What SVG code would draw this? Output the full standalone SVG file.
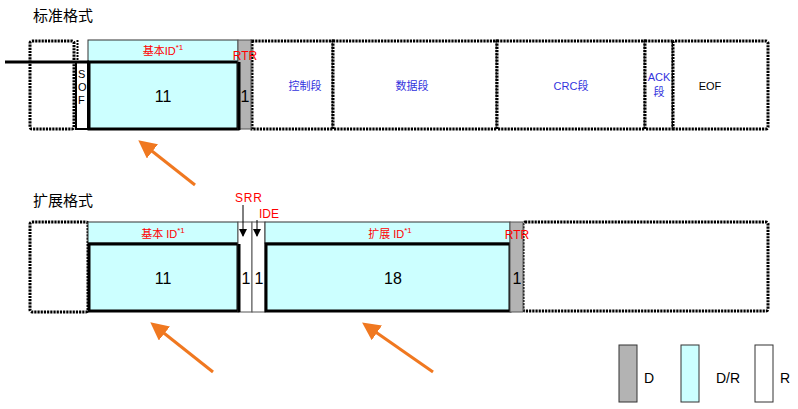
<svg xmlns="http://www.w3.org/2000/svg" width="798" height="409" viewBox="0 0 798 409">
<style>
.title{font-family:"Noto Sans CJK SC","Liberation Sans",sans-serif;font-size:15px;fill:#000}
.dot{fill:#fff;stroke:#000;stroke-width:3;stroke-dasharray:2.2 1}
.cy{fill:#ccffff;stroke:#333;stroke-width:1}
.thick{fill:#ccffff;stroke:#000;stroke-width:3}
.gray{fill:#b3b3b3;stroke:#555;stroke-width:1}
.red{font-family:"Liberation Sans","Noto Sans CJK SC",sans-serif;font-size:11px;fill:#ff0000}
.red12{font-family:"Liberation Sans",sans-serif;font-size:12px;fill:#ff0000}
.blue{font-family:"Liberation Sans","Noto Sans CJK SC",sans-serif;font-size:11px;fill:#3333dd;text-anchor:middle}
.num{font-family:"Liberation Sans",sans-serif;font-size:16px;fill:#000;text-anchor:middle}
.lbl{font-family:"Liberation Sans",sans-serif;font-size:14px;fill:#000}
.orange{stroke:#f07820;stroke-width:3;fill:none}
</style>
<defs>
<marker id="oa" markerWidth="6" markerHeight="6" refX="4" refY="3" orient="auto" markerUnits="strokeWidth">
<path d="M0,0 L6,3 L0,6 Z" fill="#f07820"/>
</marker>
<marker id="ba" markerWidth="8" markerHeight="8" refX="7" refY="4" orient="auto" markerUnits="userSpaceOnUse">
<path d="M0,0 L8,4 L0,8 Z" fill="#000"/>
</marker>
</defs>
<text class="title" x="33" y="21">标准格式</text>
<text class="title" x="33" y="206">扩展格式</text>

<g id="std">
<g id="std-idle"><rect class="dot" x="30" y="41" width="44" height="88" rx="2"/></g>
<g id="std-sof">
<line x1="77.5" y1="40" x2="77.5" y2="62" stroke="#000" stroke-width="2" stroke-dasharray="2 1"/>
<rect x="76" y="62" width="12" height="67" fill="#fff" stroke="#000" stroke-width="2"/>
<text class="red" x="78" y="78" style="fill:#000">S</text>
<text class="red" x="78" y="91" style="fill:#000">O</text>
<text class="red" x="78" y="104" style="fill:#000">F</text>
</g>
<g id="std-id">
<rect class="cy" x="88" y="40" width="150" height="22"/>
<rect class="thick" x="89" y="62" width="149" height="67"/>
<text class="red" x="163" y="55" text-anchor="middle">基本ID<tspan dy="-5" font-size="8">*1</tspan></text>
<text class="num" x="163" y="102">11</text>
</g>
<g id="std-ctrl"><rect class="dot" x="252" y="41" width="81" height="88"/><text class="blue" x="305" y="90">控制段</text></g>
<g id="std-data"><rect class="dot" x="333" y="41" width="164" height="88"/><text class="blue" x="412" y="90">数据段</text></g>
<g id="std-crc"><rect class="dot" x="497" y="41" width="148" height="88"/><text class="blue" x="571" y="90">CRC段</text></g>
<g id="std-ack"><rect class="dot" x="645" y="41" width="28" height="88"/><text class="blue" x="659" y="81">ACK</text><text class="blue" x="659" y="96">段</text></g>
<g id="std-eof"><rect class="dot" x="673" y="41" width="95" height="88" rx="2"/><text class="blue" x="710" y="90" style="fill:#000">EOF</text></g>
<g id="std-rtr">
<rect class="gray" x="238" y="40" width="13" height="89"/>
<line x1="239" y1="62" x2="239" y2="130" stroke="#000" stroke-width="3"/>
<text class="num" x="245" y="102">1</text>
<text class="red12" x="245" y="60" text-anchor="middle">RTR</text>
</g>
</g>

<g id="ext">
<g id="ext-idle"><rect class="dot" x="30" y="222" width="58" height="90" rx="2"/></g>
<g id="ext-id">
<rect class="cy" x="88" y="222" width="150" height="21"/>
<rect class="thick" x="89" y="244" width="149" height="67"/>
<text class="red" x="163" y="238" text-anchor="middle">基本 ID<tspan dy="-5" font-size="8">*1</tspan></text>
<text class="num" x="163" y="284">11</text>
</g>
<g id="ext-srr">
<rect x="238" y="222" width="14" height="90" fill="#fff" stroke="#555" stroke-width="1"/>
<line x1="239" y1="244" x2="239" y2="312" stroke="#000" stroke-width="3"/>
<text class="num" x="246" y="284">1</text>
</g>
<g id="ext-ide">
<rect x="252" y="222" width="13" height="90" fill="#fff" stroke="#555" stroke-width="1"/>
<text class="num" x="259" y="284">1</text>
</g>
<g id="ext-eid">
<rect class="cy" x="265" y="222" width="245" height="21"/>
<rect class="thick" x="266" y="244" width="244" height="67"/>
<text class="red" x="390" y="238" text-anchor="middle">扩展 ID<tspan dy="-5" font-size="8">*1</tspan></text>
<text class="num" x="393" y="284">18</text>
</g>
<g id="ext-rest"><rect class="dot" x="523" y="222" width="245" height="89" rx="2"/></g>
<g id="ext-rtr">
<rect class="gray" x="510" y="222" width="13" height="90"/>
<text class="num" x="517" y="284">1</text>
<text class="red12" x="517" y="239" text-anchor="middle">RTR</text>
</g>
<text class="red12" x="235" y="202" letter-spacing="0.8">SRR</text>
<text class="red12" x="259" y="218">IDE</text>
</g>

<g id="connectors">
<line x1="5" y1="62" x2="89" y2="62" stroke="#000" stroke-width="3"/>
<line x1="243" y1="205" x2="243" y2="236" stroke="#000" stroke-width="1" marker-end="url(#ba)"/>
<line x1="257" y1="220" x2="257" y2="236" stroke="#000" stroke-width="1" marker-end="url(#ba)"/>
<line class="orange" x1="195" y1="185" x2="143" y2="144" marker-end="url(#oa)"/>
<line class="orange" x1="213" y1="372" x2="155" y2="326" marker-end="url(#oa)"/>
<line class="orange" x1="433" y1="372" x2="367" y2="326" marker-end="url(#oa)"/>
</g>

<g id="legend">
<rect x="619" y="345" width="18" height="57" fill="#b3b3b3" stroke="#333" stroke-width="1"/>
<text class="lbl" x="644" y="383">D</text>
<rect x="681" y="345" width="18" height="57" fill="#ccffff" stroke="#333" stroke-width="1"/>
<text class="lbl" x="716" y="383">D/R</text>
<rect x="755" y="345" width="18" height="57" fill="#fff" stroke="#333" stroke-width="1"/>
<text class="lbl" x="780" y="383">R</text>
</g>
</svg>
